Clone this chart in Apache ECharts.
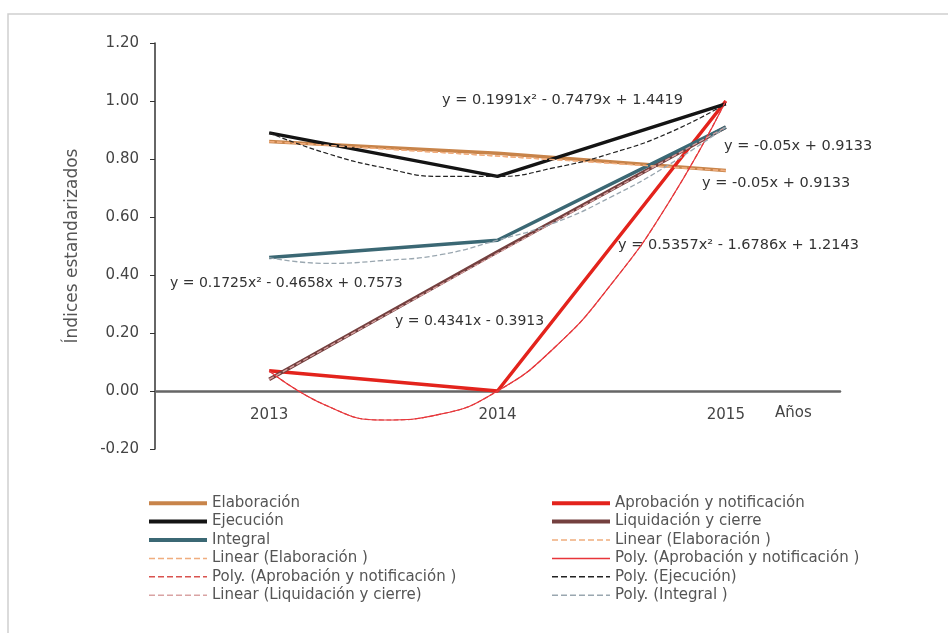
<!DOCTYPE html>
<html>
<head>
<meta charset="utf-8">
<script src="https://cdn.jsdelivr.net/npm/echarts@6/dist/echarts.min.js"></script>
<style>html,body{margin:0;padding:0;background:#fff;}#c{width:948px;height:633px;}</style>
</head>
<body>
<div id="c"></div>
<script>
// ---- data ----
var years = ['2013', '2014', '2015'];
var elaboracion = [0.86, 0.82, 0.76];
var aprobacion = [0.07, 0.00, 1.00];
var ejecucion = [0.89, 0.74, 0.99];
var liquidacion = [0.04, 0.48, 0.91];
var integral = [0.46, 0.52, 0.91];

// trendlines (x: 1=2013, 2=2014, 3=2015)
var trendX = [1, 1.25, 1.5, 1.75, 2, 2.25, 2.5, 2.75, 3];
var linEndX = [1, 3];
var linElaboracion = [0.86, 0.76];
var linLiquidacion = [0.04, 0.91];
var polyAprobacion = [0.07, -0.05, -0.10, -0.08, 0.00, 0.15, 0.37, 0.65, 1.00];
var polyEjecucion = [0.89, 0.82, 0.77, 0.74, 0.74, 0.77, 0.82, 0.89, 0.99];
var polyIntegral = [0.46, 0.44, 0.45, 0.47, 0.52, 0.58, 0.67, 0.78, 0.91];

var yTicks = { min: -0.2, max: 1.2, interval: 0.2 };

var equations = [
  'y = 0.1991x\u00b2 - 0.7479x + 1.4419',
  'y = -0.05x + 0.9133',
  'y = -0.05x + 0.9133',
  'y = 0.5357x\u00b2 - 1.6786x + 1.2143',
  'y = 0.1725x\u00b2 - 0.4658x + 0.7573',
  'y = 0.4341x - 0.3913'
];

var N = {
  elab: 'Elaboración',
  apro: 'Aprobación y notificación',
  ejec: 'Ejecución',
  liq: 'Liquidación y cierre',
  integ: 'Integral',
  linElab1: 'Linear (Elaboración )',
  linElab2: 'Linear (Elaboración\u00a0)',
  polyApro1: 'Poly. (Aprobación y notificación )',
  polyApro2: 'Poly. (Aprobación y notificación\u00a0)',
  polyEjec: 'Poly. (Ejecución)',
  linLiq: 'Linear (Liquidación y cierre)',
  polyInteg: 'Poly. (Integral )'
};

function pairs(xs, ys) { return xs.map(function (x, i) { return [x, ys[i]]; }); }

var FONT = 'DejaVu Sans';
var chart = echarts.init(document.getElementById('c'), null, { renderer: 'canvas' });

function dataLine(name, data, color) {
  return { name: name, type: 'line', data: data, xAxisIndex: 0, symbol: 'none',
    lineStyle: { color: color, width: 3.5 }, itemStyle: { color: color }, z: 3 };
}
function trendLine(name, data, color, type, width, smooth) {
  return { name: name, type: 'line', data: data, xAxisIndex: 1, symbol: 'none', smooth: smooth ? 0.5 : false,
    lineStyle: { color: color, width: width, type: type }, itemStyle: { color: color }, z: 4 };
}

var C = {
  elab: '#c8844a', apro: '#e3231c', ejec: '#141414', liq: '#74403f', integ: '#3b6874',
  linElab: '#f0ad7e', polyApro1: '#d9534f', polyApro2: '#e8353a', polyEjec: '#222222',
  linLiq: '#d9a3a3', polyInteg: '#9aa7b0'
};

var legendCommon = {
  orient: 'vertical', itemWidth: 58, itemHeight: 10, itemGap: 2, padding: 0,
  itemStyle: { opacity: 0, color: 'rgba(0,0,0,0)', borderWidth: 0 },
  textStyle: { fontFamily: FONT, fontSize: 15, color: '#555', lineHeight: 16.4 }
};

var option = {
  backgroundColor: '#fff',
  animation: false,
  textStyle: { fontFamily: FONT },
  grid: { left: 155, right: 108, top: 43, bottom: 184, containLabel: false },
  xAxis: [
    { type: 'category', data: years, boundaryGap: true, position: 'bottom', offset: -58,
      axisLine: { onZero: false, lineStyle: { color: '#666', width: 2.5 } },
      axisTick: { show: false },
      axisLabel: { fontFamily: FONT, fontSize: 15, color: '#444', margin: 17 },
      splitLine: { show: false } },
    { type: 'value', min: 0.5, max: 3.5, show: false, splitLine: { show: false } }
  ],
  yAxis: {
    type: 'value', min: yTicks.min, max: yTicks.max, interval: yTicks.interval,
    axisLine: { show: true, onZero: false, lineStyle: { color: '#333', width: 1.5 } },
    axisTick: { show: true, inside: false, length: 5, lineStyle: { color: '#333' } },
    axisLabel: { fontFamily: FONT, fontSize: 15, color: '#444', margin: 16,
      formatter: function (v) { return v.toFixed(2); } },
    splitLine: { show: false },
    name: 'Índices estandarizados', nameLocation: 'middle', nameGap: 74,
    nameTextStyle: { fontFamily: FONT, fontSize: 17, color: '#555' }
  },
  legend: [
    Object.assign({}, legendCommon, { left: 147, top: 495,
      data: [
        { name: N.elab, lineStyle: { width: 4 } },
        { name: N.ejec, lineStyle: { width: 4 } },
        { name: N.integ, lineStyle: { width: 4 } },
        { name: N.linElab1, lineStyle: { width: 1.5 } },
        { name: N.polyApro1, lineStyle: { width: 1.5 } },
        { name: N.linLiq, lineStyle: { width: 1.5 } }
      ] }),
    Object.assign({}, legendCommon, { left: 550, top: 495,
      data: [
        { name: N.apro, lineStyle: { width: 4 } },
        { name: N.liq, lineStyle: { width: 4 } },
        { name: N.linElab2, lineStyle: { width: 1.5 } },
        { name: N.polyApro2, lineStyle: { width: 1.5 } },
        { name: N.polyEjec, lineStyle: { width: 1.5 } },
        { name: N.polyInteg, lineStyle: { width: 1.5 } }
      ] })
  ],
  series: [
    dataLine(N.elab, elaboracion, C.elab),
    dataLine(N.apro, aprobacion, C.apro),
    dataLine(N.ejec, ejecucion, C.ejec),
    dataLine(N.liq, liquidacion, C.liq),
    dataLine(N.integ, integral, C.integ),
    trendLine(N.linElab1, pairs(linEndX, linElaboracion), C.linElab, 'dashed', 1.3, false),
    trendLine(N.linElab2, pairs(linEndX, linElaboracion), C.linElab, 'dashed', 1.3, false),
    trendLine(N.polyApro1, pairs(trendX, polyAprobacion), C.polyApro1, 'dashed', 1.2, true),
    trendLine(N.polyApro2, pairs(trendX, polyAprobacion), C.polyApro2, 'solid', 1.2, true),
    trendLine(N.polyEjec, pairs(trendX, polyEjecucion), C.polyEjec, 'dashed', 1.2, true),
    trendLine(N.linLiq, pairs(linEndX, linLiquidacion), C.linLiq, 'dashed', 1.3, false),
    trendLine(N.polyInteg, pairs(trendX, polyIntegral), C.polyInteg, 'dashed', 1.3, true)
  ],
  graphic: [
    { type: 'rect', shape: { x: 8, y: 14, width: 980, height: 660 }, silent: true,
      style: { fill: 'none', stroke: '#cfcfcf', lineWidth: 1.5 }, z: -10 },
    { type: 'text', x: 775, y: 413, style: { text: 'Años', font: '15px "DejaVu Sans"', fill: '#444', textVerticalAlign: 'middle' } },
    { type: 'text', x: 442, y: 100, style: { text: equations[0], font: '14.5px "DejaVu Sans"', fill: '#333', textVerticalAlign: 'middle' } },
    { type: 'text', x: 724, y: 146, style: { text: equations[1], font: '14.5px "DejaVu Sans"', fill: '#333', textVerticalAlign: 'middle' } },
    { type: 'text', x: 702, y: 183, style: { text: equations[2], font: '14.5px "DejaVu Sans"', fill: '#333', textVerticalAlign: 'middle' } },
    { type: 'text', x: 618, y: 245, style: { text: equations[3], font: '14.5px "DejaVu Sans"', fill: '#333', textVerticalAlign: 'middle' } },
    { type: 'text', x: 170, y: 283, style: { text: equations[4], font: '14px "DejaVu Sans"', fill: '#333', textVerticalAlign: 'middle' } },
    { type: 'text', x: 395, y: 321, style: { text: equations[5], font: '14px "DejaVu Sans"', fill: '#333', textVerticalAlign: 'middle' } }
  ]
};
chart.setOption(option);
</script>
</body>
</html>
